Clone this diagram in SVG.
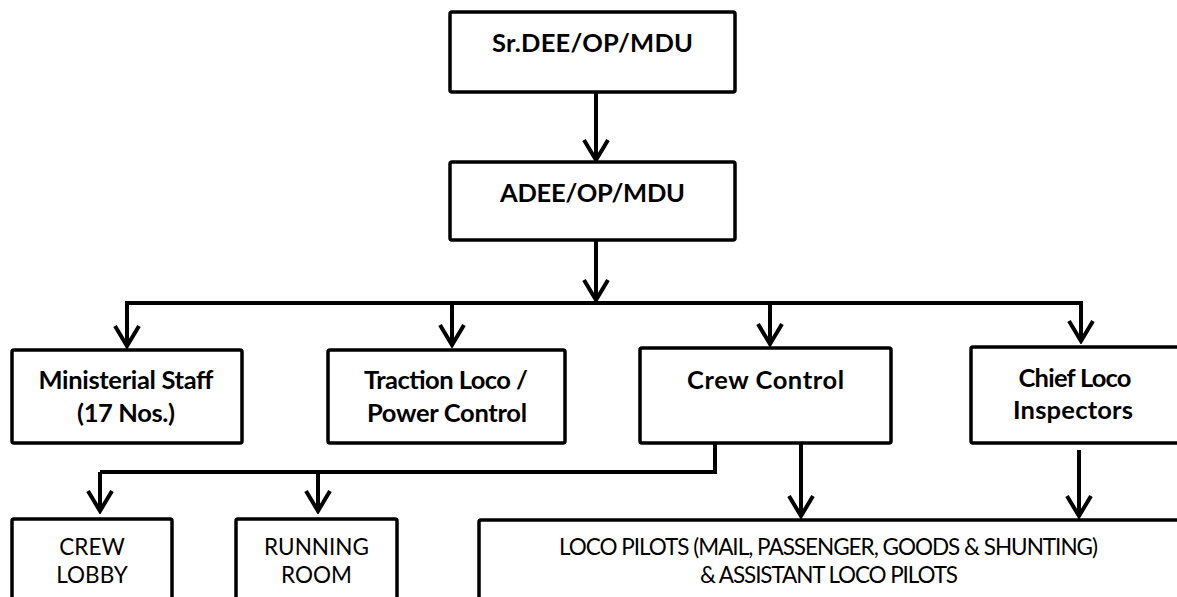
<svg xmlns="http://www.w3.org/2000/svg" width="1177" height="597" viewBox="0 0 1177 597">
  <defs>
    <marker id="arr" viewBox="-24 -15 27 30" refX="0" refY="0" markerWidth="27" markerHeight="30" markerUnits="userSpaceOnUse" orient="auto">
      <path d="M -20 -12 L 0 0 L -20 12" fill="none" stroke="#000" stroke-width="4" stroke-linejoin="miter" stroke-linecap="butt"/>
    </marker>
  </defs>
  <style>
    .box { fill: #fff; stroke: #000; stroke-width: 3.5; }
    .conn { fill: none; stroke: #000; stroke-width: 4; }
    .tb { font-family: Lato, "Liberation Sans", sans-serif; font-weight: bold; font-size: 25.5px; fill: #000; text-anchor: middle; }
    .tr { font-family: Lato, "Liberation Sans", sans-serif; font-size: 22.5px; fill: #000; text-anchor: middle; }
  </style>
  <rect width="1177" height="597" fill="#fff"/>

  <g id="connectors">
    <path class="conn" d="M596,92 V160" marker-end="url(#arr)"/>
    <path class="conn" d="M596,240 V300" marker-end="url(#arr)"/>
    <path class="conn" d="M127,303 H1081" stroke-linecap="square"/>
    <path class="conn" d="M127,303 V346" marker-end="url(#arr)"/>
    <path class="conn" d="M452,303 V345" marker-end="url(#arr)"/>
    <path class="conn" d="M770,303 V344" marker-end="url(#arr)"/>
    <path class="conn" d="M1081,303 V341" marker-end="url(#arr)"/>
    <path class="conn" d="M715,443 V472 H100" stroke-linejoin="miter"/>
    <path class="conn" d="M100,472 V511" marker-end="url(#arr)"/>
    <path class="conn" d="M318,472 V511" marker-end="url(#arr)"/>
    <path class="conn" d="M801,443 V516" marker-end="url(#arr)"/>
    <path class="conn" d="M1079,450 V516" marker-end="url(#arr)"/>
  </g>

  <g id="sr-dee">
    <rect class="box" x="450" y="12" width="285" height="80" rx="2"/>
    <text class="tb" x="592.5" y="52" textLength="201">Sr.DEE/OP/MDU</text>
  </g>
  <g id="adee">
    <rect class="box" x="450" y="162" width="285" height="78" rx="2"/>
    <text class="tb" x="592.5" y="202" textLength="185">ADEE/OP/MDU</text>
  </g>
  <g id="ministerial">
    <rect class="box" x="12" y="350" width="230" height="93" rx="2"/>
    <text class="tb" x="126" y="389" textLength="175">Ministerial Staff</text>
    <text class="tb" x="126" y="422" textLength="98">(17 Nos.)</text>
  </g>
  <g id="traction">
    <rect class="box" x="328" y="350" width="237" height="93" rx="2"/>
    <text class="tb" x="446" y="389" textLength="164">Traction Loco /</text>
    <text class="tb" x="447" y="422" textLength="160">Power Control</text>
  </g>
  <g id="crew-control">
    <rect class="box" x="640" y="348" width="251" height="95" rx="2"/>
    <text class="tb" x="765.5" y="389" textLength="157">Crew Control</text>
  </g>
  <g id="chief-loco">
    <rect class="box" x="971" y="347" width="220" height="96" rx="2"/>
    <text class="tb" x="1075" y="387" textLength="113">Chief Loco</text>
    <text class="tb" x="1073" y="419" textLength="120">Inspectors</text>
  </g>
  <g id="crew-lobby">
    <rect class="box" x="12" y="519" width="160" height="95" rx="2"/>
    <text class="tr" x="92" y="555">CREW</text>
    <text class="tr" x="92" y="583">LOBBY</text>
  </g>
  <g id="running-room">
    <rect class="box" x="236" y="519" width="161" height="95" rx="2"/>
    <text class="tr" x="316.5" y="555">RUNNING</text>
    <text class="tr" x="316.5" y="583">ROOM</text>
  </g>
  <g id="loco-pilots">
    <rect class="box" x="479" y="520" width="712" height="95" rx="2"/>
    <text class="tr" x="828.5" y="555" textLength="539">LOCO PILOTS (MAIL, PASSENGER, GOODS &amp; SHUNTING)</text>
    <text class="tr" x="829" y="583" textLength="258">&amp; ASSISTANT LOCO PILOTS</text>
  </g>
</svg>
